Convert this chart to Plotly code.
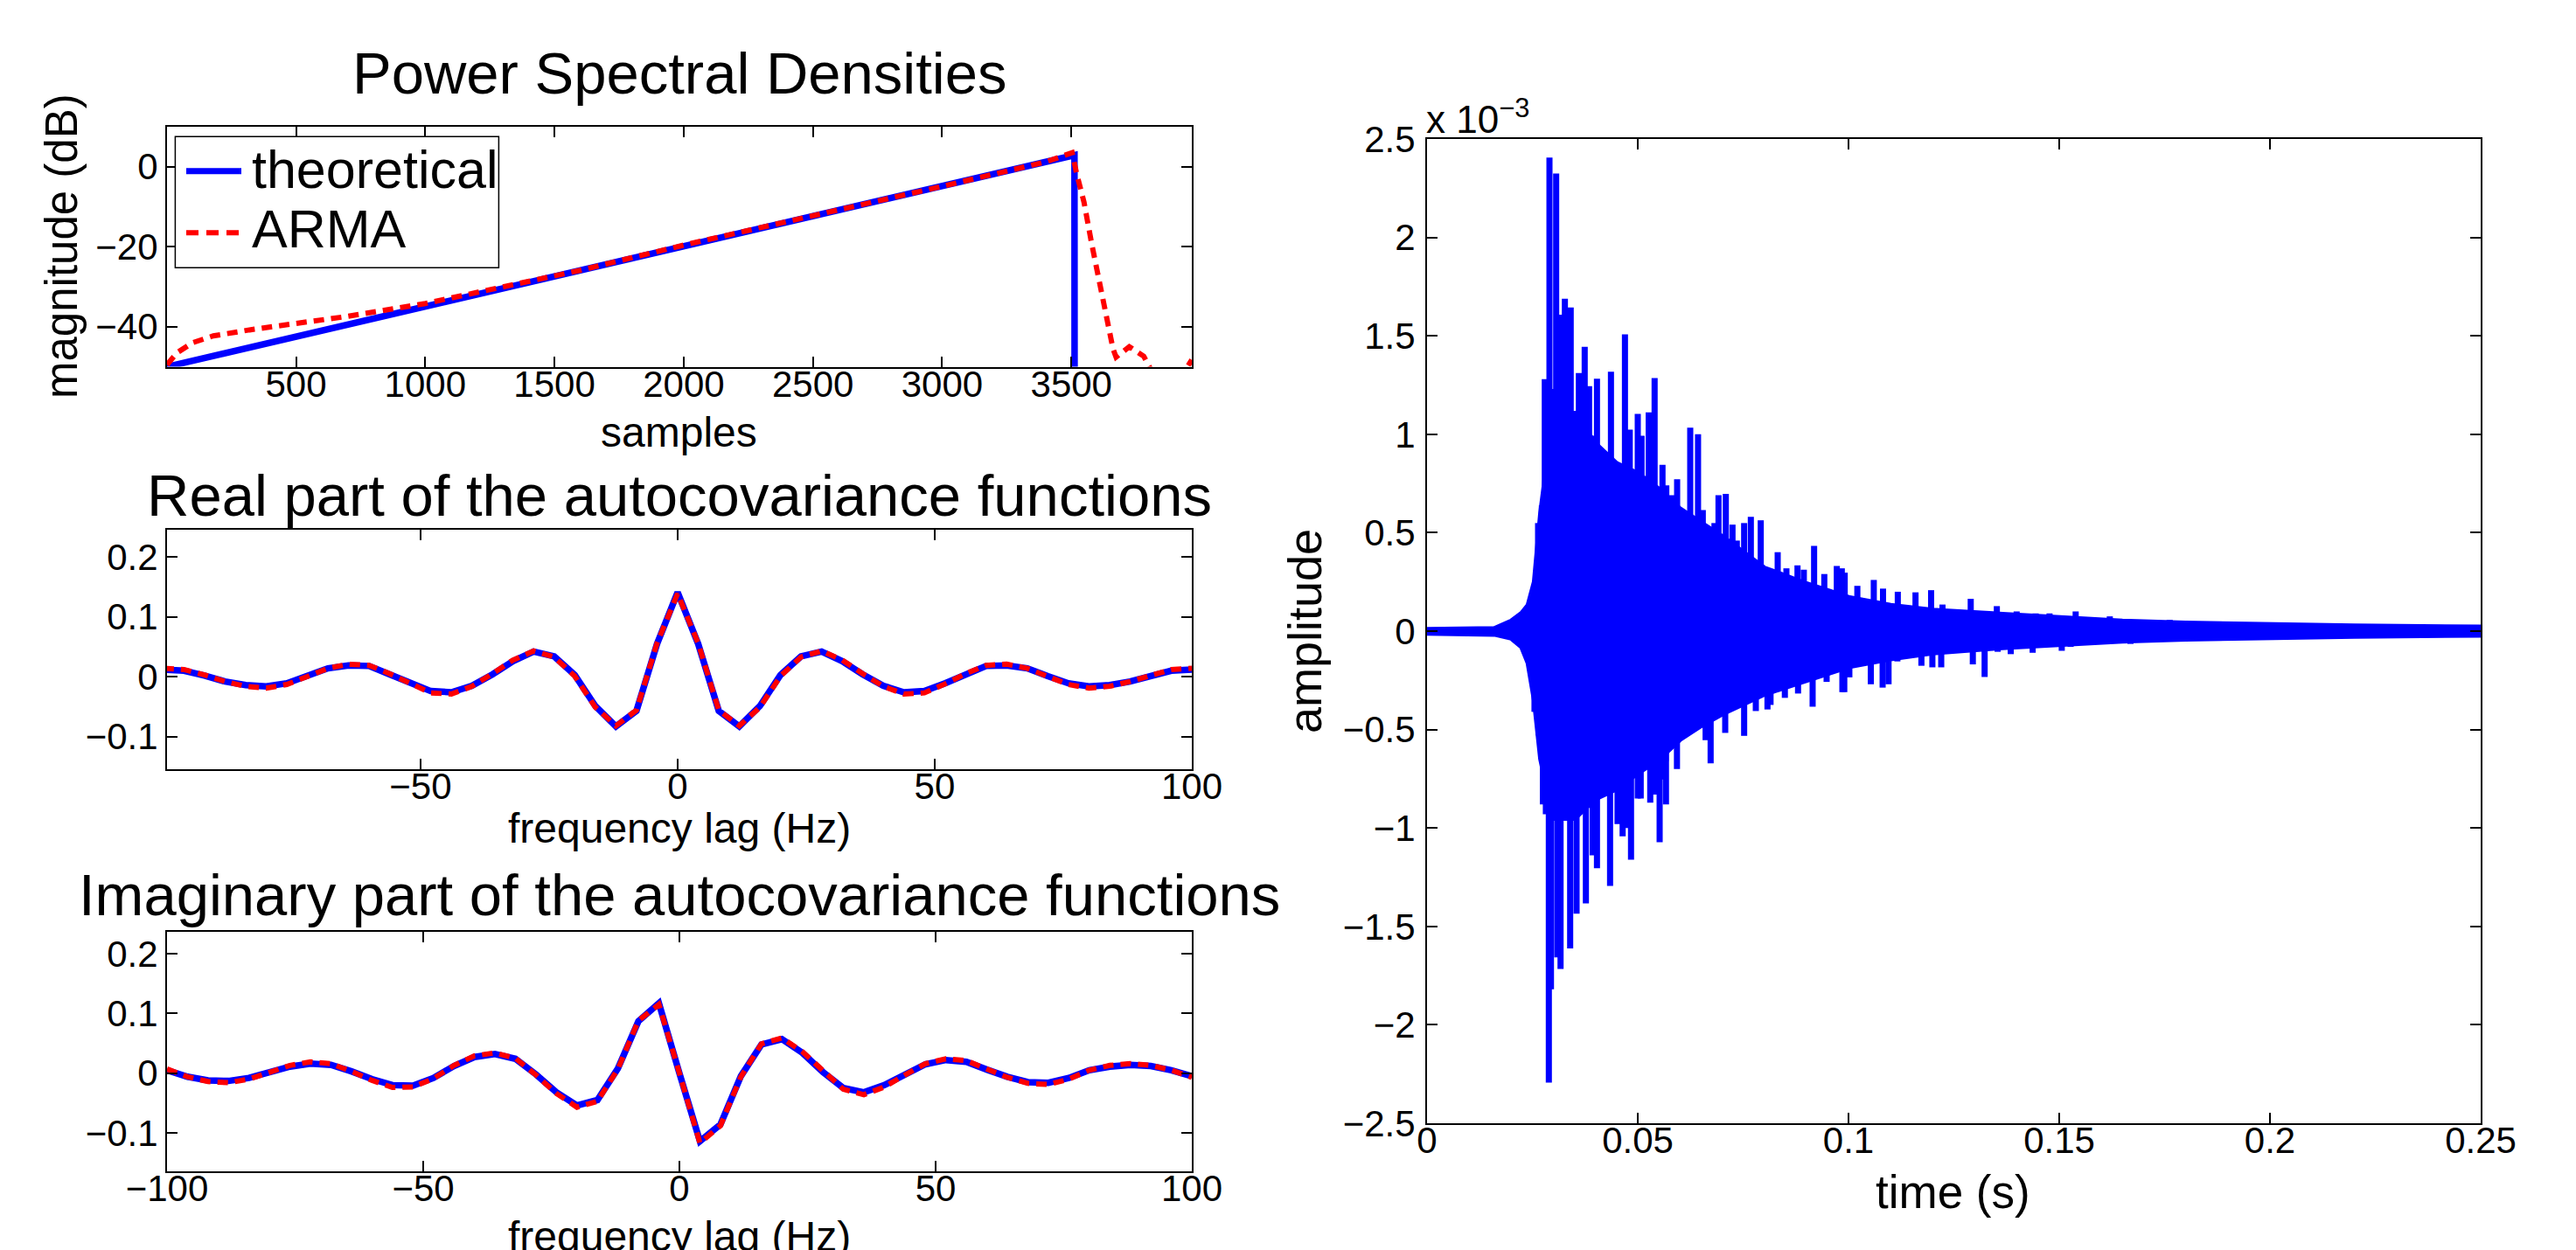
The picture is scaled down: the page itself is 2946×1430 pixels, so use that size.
import plotly.graph_objects as go

W, H = 2946, 1430
FONT = "Liberation Sans"
BLUE = "#0000ff"
RED = "#ff0000"


def px(x):
    return x / W


def py(y):
    return 1 - y / H


# ---------------- data ----------------
# Power spectral densities (dB vs samples)
psd_theo_x = [1, 3512, 3515]
psd_theo_y = [-50.0, 2.9, -400.0]
psd_arma_x = [1, 40, 100, 180, 320, 500, 700, 1000, 1300, 1600, 2000, 2500, 3000, 3400,
              3503, 3520, 3549, 3579, 3611, 3639, 3661, 3673, 3724, 3780, 3810, 3880, 3950, 3966]
psd_arma_y = [-49.5, -46.5, -44.0, -42.3, -40.8, -39.2, -37.4, -34.2, -30.2, -25.9, -19.6, -12.3, -4.9, 1.2,
              3.5, -1.6, -8.9, -19.4, -29.3, -38.0, -45.5, -47.6, -45.0, -47.4, -51.0, -57.0, -50.0, -48.3]

# frequency lags (Hz)
lags = [-100, -96, -92, -88, -84, -80, -76, -72, -68, -64, -60, -56, -52, -48, -44, -40, -36, -32, -28, -24,
        -20, -16, -12, -8, -4, 0, 4, 8, 12, 16, 20, 24, 28, 32, 36, 40, 44, 48, 52, 56, 60, 64, 68, 72, 76,
        80, 84, 88, 92, 96, 100]

real_theo = [0.012, 0.010, 0.002, -0.008, -0.014, -0.016, -0.011, 0.001, 0.014, 0.019, 0.018, 0.004, -0.011,
             -0.024, -0.026, -0.015, 0.004, 0.026, 0.042, 0.034, 0.003, -0.049, -0.083, -0.057, 0.055, 0.141,
             0.055, -0.057, -0.083, -0.049, 0.003, 0.034, 0.042, 0.026, 0.004, -0.015, -0.026, -0.024, -0.011,
             0.004, 0.018, 0.019, 0.014, 0.001, -0.011, -0.016, -0.014, -0.008, 0.002, 0.010, 0.012]
real_arma = [0.014, 0.012, 0.003, -0.008, -0.016, -0.019, -0.013, 0.001, 0.014, 0.021, 0.019, 0.005, -0.012,
             -0.027, -0.029, -0.016, 0.005, 0.028, 0.043, 0.033, 0.001, -0.051, -0.082, -0.056, 0.056, 0.139,
             0.056, -0.056, -0.082, -0.051, 0.001, 0.033, 0.043, 0.028, 0.005, -0.016, -0.029, -0.027, -0.012,
             0.005, 0.019, 0.021, 0.014, 0.001, -0.013, -0.019, -0.016, -0.008, 0.003, 0.012, 0.014]

imag_theo = [0.005, -0.006, -0.012, -0.013, -0.008, 0.002, 0.011, 0.016, 0.014, 0.003, -0.010, -0.020, -0.021,
             -0.008, 0.012, 0.027, 0.032, 0.024, -0.002, -0.032, -0.054, -0.045, 0.008, 0.087, 0.117, 0.000,
             -0.114, -0.086, -0.005, 0.048, 0.057, 0.034, 0.002, -0.025, -0.032, -0.020, -0.002, 0.015, 0.022,
             0.019, 0.006, -0.006, -0.015, -0.016, -0.008, 0.005, 0.011, 0.014, 0.012, 0.005, -0.005]
imag_arma = [0.007, -0.006, -0.014, -0.016, -0.010, 0.002, 0.013, 0.019, 0.016, 0.003, -0.012, -0.024, -0.023,
             -0.009, 0.013, 0.029, 0.034, 0.025, -0.003, -0.034, -0.057, -0.047, 0.007, 0.088, 0.115, 0.000,
             -0.117, -0.088, -0.006, 0.049, 0.059, 0.036, 0.003, -0.027, -0.036, -0.023, -0.003, 0.016, 0.024,
             0.021, 0.007, -0.007, -0.017, -0.019, -0.010, 0.005, 0.013, 0.016, 0.013, 0.005, -0.007]

# impulse response (amplitude in units of 1e-3)
core_t = [0.0, 0.016, 0.020, 0.0225, 0.024, 0.0255, 0.027, 0.030, 0.035, 0.040, 0.045, 0.050, 0.055, 0.060,
          0.065, 0.070, 0.080, 0.090, 0.100, 0.110, 0.120, 0.135, 0.150, 0.165, 0.180, 0.200, 0.220, 0.250]
core_hi = [0.008, 0.012, 0.05, 0.09, 0.13, 0.25, 0.60, 1.10, 1.10, 0.95, 0.85, 0.80, 0.72, 0.62,
           0.55, 0.48, 0.32, 0.24, 0.17, 0.13, 0.105, 0.085, 0.065, 0.05, 0.04, 0.03, 0.025, 0.02]
core_lo = [-0.010, -0.015, -0.035, -0.08, -0.16, -0.35, -0.65, -0.95, -0.95, -0.85, -0.80, -0.72, -0.65, -0.55,
           -0.48, -0.42, -0.32, -0.25, -0.18, -0.14, -0.11, -0.085, -0.065, -0.05, -0.04, -0.03, -0.025, -0.02]

pos_t = [0.02635, 0.02725, 0.02794, 0.02905, 0.02994, 0.03064, 0.03168, 0.03271, 0.03409, 0.03500, 0.03603,
         0.03741, 0.03845, 0.03940, 0.04032, 0.04136, 0.04270, 0.04364, 0.04536, 0.04606, 0.04696, 0.04810,
         0.05000, 0.05090, 0.05173, 0.05260, 0.05400, 0.05587, 0.05677, 0.05810, 0.05934, 0.06072, 0.06245,
         0.06430, 0.06543, 0.06625, 0.06750, 0.06820, 0.06916, 0.07089, 0.07248, 0.07350, 0.07524, 0.07683,
         0.07918, 0.08043, 0.08320, 0.08527, 0.08790, 0.08940, 0.09184, 0.09426, 0.09723, 0.09841, 0.09910,
         0.10210, 0.10600, 0.10820, 0.11170, 0.11590, 0.11960, 0.12230, 0.12900, 0.13520, 0.13990, 0.14440,
         0.14770, 0.15390, 0.16200, 0.17310, 0.17620, 0.17860, 0.18590, 0.19180, 0.20250, 0.21270, 0.23070,
         0.24500]
pos_amp = [0.549, 0.638, 1.28, 2.406, 1.23, 2.325, 1.607, 1.689, 1.644, 1.119, 1.311,
           1.444, 1.245, 0.993, 1.282, 0.652, 0.727, 1.318, 0.756, 0.823, 1.507, 1.023,
           1.104, 0.993, 0.735, 1.111, 1.285, 0.845, 0.741, 0.69, 0.771, 0.556, 1.033,
           1.0, 0.615, 0.504, 0.386, 0.549, 0.69, 0.697, 0.541, 0.46, 0.549, 0.581,
           0.563, 0.305, 0.401, 0.319, 0.334, 0.312, 0.433, 0.29, 0.331, 0.319, 0.297,
           0.23, 0.26, 0.216, 0.20, 0.197, 0.208, 0.135, 0.164, 0.127, 0.10, 0.09,
           0.09, 0.10, 0.075, 0.053, 0.057, 0.05, 0.038, 0.034, 0.034, 0.035, 0.03,
           0.03]

neg_t = [0.02550, 0.02650, 0.02750, 0.02820, 0.02890, 0.02940, 0.03090, 0.03168, 0.03396, 0.03548, 0.03769,
         0.03860, 0.03930, 0.04032, 0.04240, 0.04343, 0.04520, 0.04641, 0.04760, 0.04840, 0.05000, 0.05070,
         0.05296, 0.05410, 0.05519, 0.05602, 0.05660, 0.05669, 0.05843, 0.05930, 0.06280, 0.06420, 0.06610,
         0.06729, 0.07075, 0.07524, 0.07801, 0.08078, 0.08150, 0.08490, 0.08803, 0.09149, 0.09481, 0.09855,
         0.09900, 0.10020, 0.10530, 0.10810, 0.10950, 0.11160, 0.11730, 0.11990, 0.12200, 0.12950, 0.13230,
         0.13540, 0.13850, 0.14370, 0.15060, 0.15270, 0.16140, 0.16690, 0.18070]
neg_amp = [-0.41, -0.53, -0.88, -0.93, -2.293, -1.82, -1.657, -1.716, -1.612, -1.435, -1.383,
           -0.82, -1.139, -1.205, -0.82, -1.294, -0.98, -1.042, -1.0, -1.161, -0.85, -0.85,
           -0.872, -0.83, -1.072, -0.754, -0.66, -0.88, -0.547, -0.70, -0.458, -0.41, -0.554,
           -0.672, -0.517, -0.532, -0.406, -0.398, -0.375, -0.339, -0.317, -0.384, -0.258, -0.31,
           -0.31, -0.235, -0.27, -0.287, -0.27, -0.154, -0.176, -0.184, -0.184, -0.169, -0.233,
           -0.105, -0.117, -0.11, -0.10, -0.08, -0.058, -0.065, -0.043]

# ---------------- figure ----------------
fig = go.Figure()
LW_B, LW_R, DASH = 7.5, 6, "12px,8px"

fig.add_trace(go.Scatter(x=psd_theo_x, y=psd_theo_y, mode="lines", line=dict(color=BLUE, width=LW_B),
                         xaxis="x", yaxis="y", showlegend=False))
fig.add_trace(go.Scatter(x=psd_arma_x, y=psd_arma_y, mode="lines",
                         line=dict(color=RED, width=LW_R, dash=DASH),
                         xaxis="x", yaxis="y", showlegend=False))

fig.add_trace(go.Scatter(x=lags, y=real_theo, mode="lines", line=dict(color=BLUE, width=LW_B),
                         xaxis="x2", yaxis="y2", showlegend=False))
fig.add_trace(go.Scatter(x=lags, y=real_arma, mode="lines", line=dict(color=RED, width=LW_R, dash=DASH),
                         xaxis="x2", yaxis="y2", showlegend=False))

fig.add_trace(go.Scatter(x=lags, y=imag_theo, mode="lines", line=dict(color=BLUE, width=LW_B),
                         xaxis="x3", yaxis="y3", showlegend=False))
fig.add_trace(go.Scatter(x=lags, y=imag_arma, mode="lines", line=dict(color=RED, width=LW_R, dash=DASH),
                         xaxis="x3", yaxis="y3", showlegend=False))

# impulse response: dense core + individual spikes
fig.add_trace(go.Scatter(x=core_t + core_t[::-1], y=core_hi + core_lo[::-1], mode="lines",
                         fill="toself", fillcolor=BLUE, line=dict(color=BLUE, width=6),
                         xaxis="x4", yaxis="y4", showlegend=False))
sx, sy = [], []
for t, a in list(zip(pos_t, pos_amp)) + list(zip(neg_t, neg_amp)):
    sx += [t, t, None]
    sy += [0, a, None]
fig.add_trace(go.Scatter(x=sx, y=sy, mode="lines", line=dict(color=BLUE, width=7),
                         xaxis="x4", yaxis="y4", showlegend=False))

tickfont = dict(family=FONT, size=42, color="black")
common = dict(showline=True, linecolor="black", linewidth=2, mirror="ticks", ticks="inside", ticklen=12,
              tickwidth=1.5, tickcolor="black", showgrid=False, zeroline=False, tickfont=tickfont,
              automargin=False)
xcommon = dict(common, ticklabelstandoff=-18)

LX = [px(183), px(1355)]
fig.update_layout(
    template="none",
    width=W, height=H, margin=dict(l=0, r=0, t=0, b=0, pad=0, autoexpand=False),
    paper_bgcolor="white", plot_bgcolor="white",
    xaxis=dict(domain=LX, range=[1, 3966], dtick=500, tick0=0, anchor="y", **xcommon),
    yaxis=dict(domain=[py(411.5), py(137)], range=[-50, 10], dtick=20, tick0=0, anchor="x", **common),
    xaxis2=dict(domain=LX, range=[-99.3, 100], dtick=50, tick0=0, anchor="y2", **xcommon),
    yaxis2=dict(domain=[py(871.5), py(597.7)], range=[-0.1539, 0.2462], dtick=0.1, tick0=0, anchor="x2", **common),
    xaxis3=dict(domain=LX, range=[-100, 100], dtick=50, tick0=0, anchor="y3", **xcommon),
    yaxis3=dict(domain=[py(1331.5), py(1057.7)], range=[-0.1636, 0.2371], dtick=0.1, tick0=0, anchor="x3", **common),
    xaxis4=dict(domain=[px(1624), px(2829)], range=[0, 0.25], dtick=0.05, tick0=0, anchor="y4", **xcommon),
    yaxis4=dict(domain=[py(1277), py(151)], range=[-2.5, 2.5], dtick=0.5, tick0=0, anchor="x4",
                **dict(common, ticklabelstandoff=3)),
)


def ann(text, x, y, size, angle=0, xanchor="center"):
    fig.add_annotation(text=text, x=x, y=y, xref="paper", yref="paper", showarrow=False,
                       xanchor=xanchor, yanchor="middle", textangle=angle, borderpad=0,
                       font=dict(family=FONT, size=size, color="black"))


ann("Power Spectral Densities", px(769), py(75.8), 67)
ann("Real part of the autocovariance functions", px(769), py(558.5), 67)
ann("Imaginary part of the autocovariance functions", px(769), py(1015.8), 67)
ann("samples", px(768.5), py(486.7), 48)
ann("frequency lag (Hz)", px(768.5), py(940), 48)
ann("frequency lag (Hz)", px(768.5), py(1406.4), 48)
ann("magnitude (dB)", px(62), py(274), 51, angle=-90)
ann("amplitude", px(1484), py(714), 54, angle=-90)
ann("time (s)", px(2225), py(1355), 53)
fig.add_annotation(text="x 10<sup>\u22123</sup>", x=px(1622), y=py(154), xref="paper", yref="paper",
                   showarrow=False, xanchor="left", yanchor="bottom", borderpad=0,
                   font=dict(family=FONT, size=44, color="black"))

# legend (panel 1)
fig.add_shape(type="rect", xref="paper", yref="paper", x0=px(192.4), x1=px(562.4), y0=py(298.3), y1=py(148.3),
              line=dict(color="black", width=1.5), fillcolor="white", layer="above")
fig.add_shape(type="line", xref="paper", yref="paper", x0=px(205), x1=px(268), y0=py(187.7), y1=py(187.7),
              line=dict(color=BLUE, width=7), layer="above")
fig.add_shape(type="line", xref="paper", yref="paper", x0=px(205), x1=px(268), y0=py(258.3), y1=py(258.3),
              line=dict(color=RED, width=6, dash="14px,9px"), layer="above")
ann("theoretical", px(279), py(185.6), 61, xanchor="left")
ann("ARMA", px(279), py(253.9), 61, xanchor="left")

fig.write_html("out.html")
